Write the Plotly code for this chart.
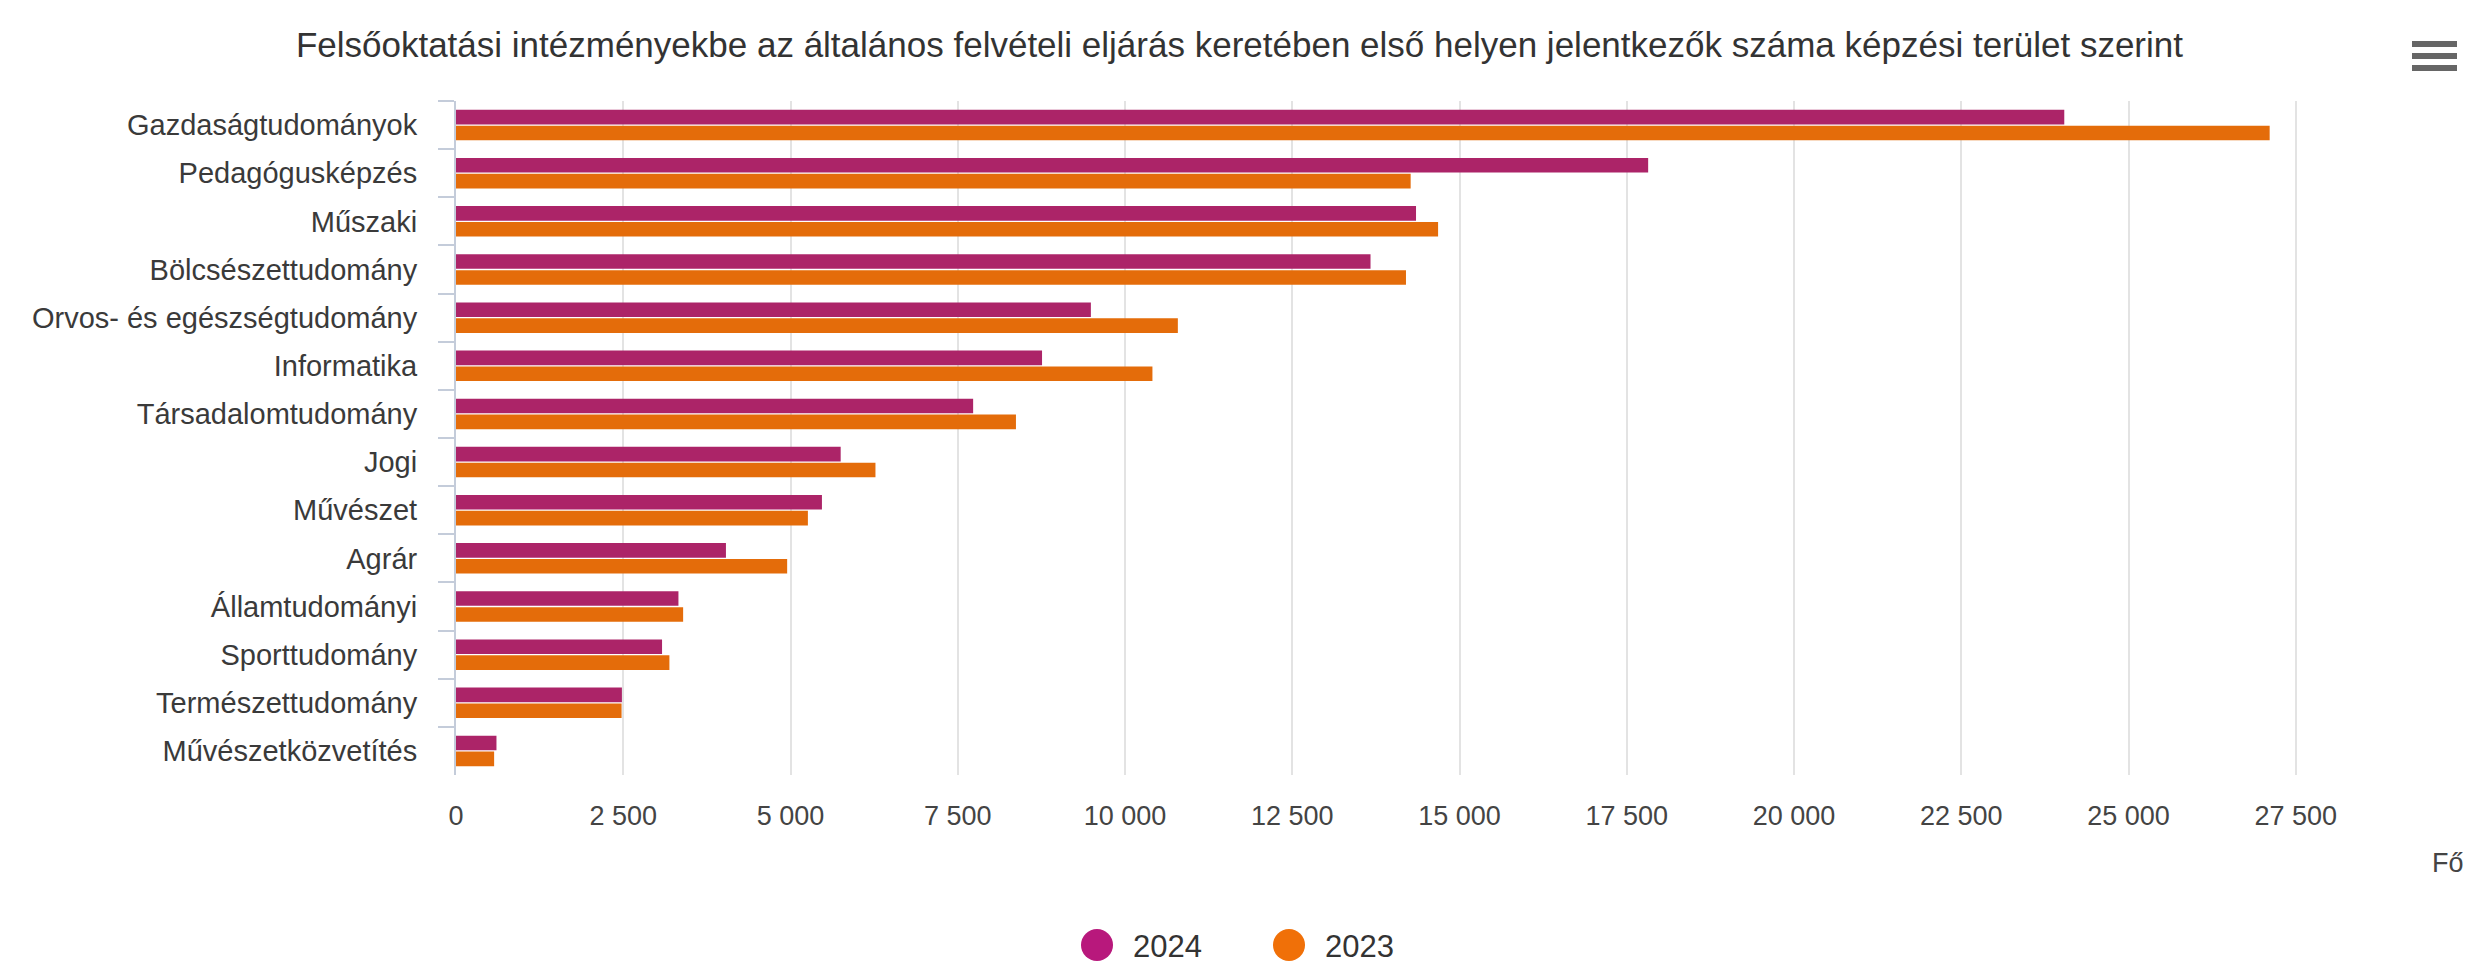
import plotly.graph_objects as go

# Képzési területek (felülről lefelé)
categories = [
    "Gazdaságtudományok", "Pedagógusképzés", "Műszaki", "Bölcsészettudomány",
    "Orvos- és egészségtudomány", "Informatika", "Társadalomtudomány", "Jogi",
    "Művészet", "Agrár", "Államtudományi", "Sporttudomány",
    "Természettudomány", "Művészetközvetítés",
]

# Első helyen jelentkezők száma (fő)
values_2024 = [24040, 17820, 14350, 13670, 9490, 8760, 7730, 5750, 5470, 4035, 3325, 3080, 2480, 605]
values_2023 = [27110, 14270, 14680, 14200, 10790, 10410, 8370, 6270, 5260, 4950, 3395, 3190, 2475, 570]

series_names = ["2024", "2023"]
series_colors = ["#AC2468", "#E46C0A"]
legend_colors = ["#B8187C", "#F07008"]

x_tickvals = [0, 2500, 5000, 7500, 10000, 12500, 15000, 17500, 20000, 22500, 25000, 27500, 30000]
x_ticktext = ["0", "2 500", "5 000", "7 500", "10 000", "12 500", "15 000", "17 500",
              "20 000", "22 500", "25 000", "27 500", ""]

TITLE = ("Felsőoktatási intézményekbe az általános felvételi eljárás keretében "
         "első helyen jelentkezők száma képzési terület szerint")

W, H = 2469, 978
M_L, M_R, M_T, M_B = 456, 6, 101, 203
PW, PH = W - M_L - M_R, H - M_T - M_B
FONT = "Liberation Sans, Arial, sans-serif"


def px_x(px):
    """Horizontal pixel position -> paper coordinate."""
    return (px - M_L) / PW


def px_y(py):
    """Vertical pixel position (from top) -> paper coordinate."""
    return (H - M_B - py) / PH


fig = go.Figure()
for name, vals, col in zip(series_names, [values_2024, values_2023], series_colors):
    fig.add_trace(go.Bar(
        y=categories, x=vals, name=name, orientation="h",
        marker=dict(color=col, line=dict(width=0)),
        showlegend=False,
        hovertemplate="%{y}<br>" + name + ": %{x}<extra></extra>",
    ))

shapes = []
annotations = []

# Jelmagyarázat: kör alakú jelölők a sorozatnevekkel
legend_px = [(1097, 1131), (1289, 1323)]
for (cx, tx), name, col in zip(legend_px, series_names, legend_colors):
    shapes.append(dict(
        type="circle", xref="paper", yref="paper",
        xsizemode="pixel", ysizemode="pixel",
        xanchor=px_x(cx), yanchor=px_y(945),
        x0=-16, x1=16, y0=-16, y1=16,
        fillcolor=col, line=dict(width=0),
    ))
    annotations.append(dict(
        text=name, xref="paper", yref="paper", x=px_x(tx), y=px_y(946),
        xanchor="left", yanchor="middle", showarrow=False,
        font=dict(family=FONT, size=31, color="#333333"),
    ))

# Tengelycím a vízszintes tengely végén
annotations.append(dict(
    text="Fő", xref="paper", yref="paper", x=px_x(2466), y=px_y(863),
    xanchor="right", yanchor="middle", showarrow=False,
    font=dict(family=FONT, size=27, color="#444444"),
))

# Menü ikon (három vízszintes csík)
for yy in (44, 56, 68):
    shapes.append(dict(
        type="line", xref="paper", yref="paper",
        x0=px_x(2412), x1=px_x(2457), y0=px_y(yy), y1=px_y(yy),
        line=dict(color="#666666", width=6),
    ))

fig.update_layout(
    width=W, height=H,
    margin=dict(l=M_L, r=M_R, t=M_T, b=M_B, pad=0),
    paper_bgcolor="white", plot_bgcolor="white",
    barmode="group", bargap=0.34, bargroupgap=0.08,
    title=dict(
        text=TITLE, x=0.502, xanchor="center", xref="container",
        y=1 - 45 / H, yanchor="middle", yref="container",
        font=dict(family=FONT, size=35, color="#333333"),
    ),
    font=dict(family=FONT, color="#333333"),
    shapes=shapes,
    annotations=annotations,
    xaxis=dict(
        range=[0, 30000], tickmode="array",
        tickvals=x_tickvals, ticktext=x_ticktext,
        showgrid=True, gridcolor="#e3e3e3", gridwidth=2,
        zeroline=False, showline=False, ticks="",
        ticklabelstandoff=22,
        tickfont=dict(family=FONT, size=27, color="#444444"),
    ),
    yaxis=dict(
        autorange="reversed", type="category",
        showgrid=False, zeroline=False,
        showline=True, linecolor="#c4ccda", linewidth=2,
        ticks="outside", tickson="boundaries", ticklen=16,
        tickcolor="#c4ccda", tickwidth=2,
        ticklabelstandoff=31,
        tickfont=dict(family=FONT, size=29, color="#3a3a3a"),
    ),
)

fig.write_html("out.html")
